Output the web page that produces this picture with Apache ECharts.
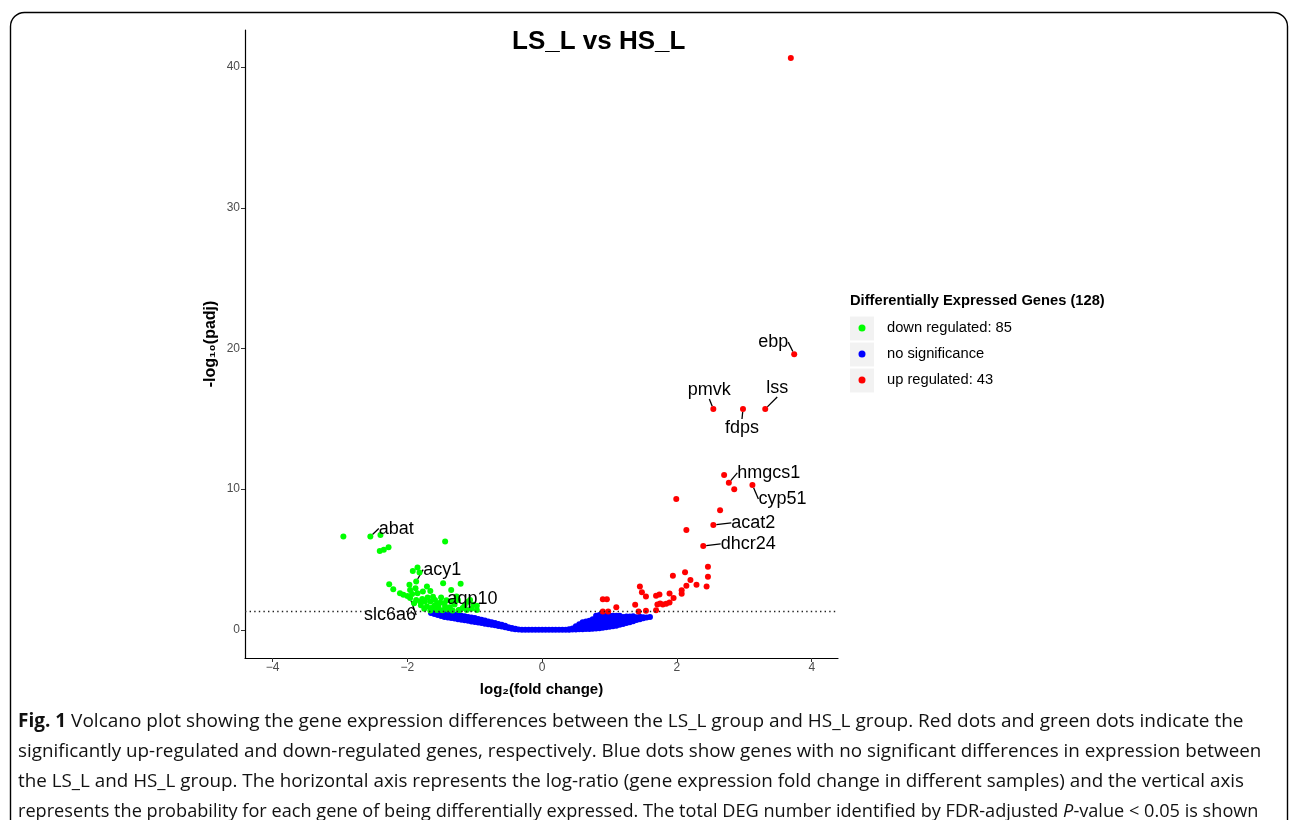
<!DOCTYPE html>
<html>
<head>
<meta charset="utf-8">
<title>LS_L vs HS_L volcano</title>
<script src="https://cdn.jsdelivr.net/npm/echarts@6/dist/echarts.min.js"></script>
<style>
  html, body { margin: 0; padding: 0; background: #fff; }
  #chart { width: 1290px; height: 820px; }
</style>
</head>
<body>
<div id="chart"></div>
<script>
// ---- data ----
const xTicks = [-4, -2, 0, 2, 4];
const yTicks = [0, 10, 20, 30, 40];
const padjCut = 1.3; // -log10(0.05)

// up regulated (red), unlabelled
const upPoints = [
  [3.69, 40.65],
  [2.70, 11.0], [2.85, 10.0], [1.99, 9.3], [2.64, 8.5], [2.14, 7.1],
  [2.46, 4.48], [1.94, 3.84], [2.12, 4.09], [2.46, 3.77], [2.44, 3.09],
  [2.20, 3.55], [2.29, 3.2], [2.14, 3.13], [2.07, 2.81], [1.89, 2.59],
  [2.07, 2.56], [1.95, 2.27], [1.74, 2.52], [1.69, 2.42], [1.75, 1.88],
  [1.71, 1.81], [1.79, 1.81], [1.84, 1.85], [1.89, 1.95], [1.69, 1.39],
  [1.45, 3.09], [1.48, 2.67], [1.54, 2.38], [1.38, 1.78], [1.43, 1.31],
  [1.54, 1.35], [1.10, 1.6], [0.90, 2.17], [0.96, 2.17], [0.90, 1.31],
  [0.98, 1.31]
];
// up regulated, labelled
const upGenes = ['ebp', 'pmvk', 'fdps', 'lss', 'hmgcs1', 'cyp51', 'acat2', 'dhcr24'];
const upGenePoints = [
  [3.74, 19.6], [2.54, 15.7], [2.98, 15.7], [3.31, 15.7],
  [2.77, 10.45], [3.12, 10.3], [2.54, 7.46], [2.39, 5.97]
];

// down regulated (green), unlabelled
const downPoints = [
  [-2.95, 6.63], [-2.40, 6.75], [-1.44, 6.28],
  [-2.41, 5.61], [-2.35, 5.69], [-2.28, 5.88],
  [-1.92, 4.19], [-1.85, 4.43], [-1.82, 4.07],
  [-2.27, 3.25], [-2.21, 2.89], [-2.11, 2.61], [-2.06, 2.49],
  [-1.97, 3.20], [-1.96, 2.84], [-1.88, 2.96], [-1.77, 2.72], [-1.71, 3.08],
  [-1.66, 2.77], [-1.47, 3.32], [-1.35, 2.84], [-1.21, 3.27],
  [-1.87, 2.13], [-1.81, 2.01], [-1.74, 2.01], [-1.66, 2.01], [-1.59, 2.13],
  [-1.51, 1.94], [-1.60, 1.71], [-1.71, 1.66], [-1.44, 1.66], [-1.37, 1.61],
  [-1.24, 1.42], [-1.12, 1.42], [-0.97, 1.71], [-0.97, 1.42], [-1.56, 1.42],
  [-1.66, 1.37], [-1.27, 2.37], [-1.02, 1.78], [-1.22, 1.42], [-1.25, 2.13],
  [-1.07, 2.13], [-2.00, 2.40], [-1.90, 1.90], [-1.80, 1.75], [-1.75, 1.50],
  [-1.65, 1.55], [-1.55, 1.85], [-1.45, 1.90], [-1.40, 1.45], [-1.30, 1.80],
  [-1.15, 1.75], [-1.05, 1.50], [-1.50, 2.30], [-1.62, 2.35], [-1.70, 2.30],
  [-1.85, 2.60], [-1.10, 2.00], [-1.93, 2.55], [-1.78, 2.20], [-1.58, 1.55],
  [-1.48, 1.40], [-1.33, 1.38], [-1.18, 1.55], [-1.42, 2.10], [-1.34, 2.02]
];
// down regulated, labelled
const downGenes = ['abat', 'acy1', 'slc6a6', 'aqp10'];
const downGenePoints = [[-2.55, 6.63], [-1.87, 3.43], [-1.96, 2.27], [-1.54, 1.63]];

// no significance (blue): columns of log2FC with the -log10(padj) values seen there
const blueColumns = [
  [-1.65, [1.2]], [-1.6, [1.12, 1.25]], [-1.55, [1.05, 1.2]],
  [-1.5, [0.98, 1.15, 1.27]], [-1.45, [0.92, 1.08, 1.22]], [-1.4, [0.88, 1.03, 1.18]],
  [-1.35, [0.84, 1.0, 1.15]], [-1.3, [0.8, 0.95, 1.1]], [-1.25, [0.76, 0.9, 1.05]],
  [-1.2, [0.72, 0.86, 1.0]], [-1.15, [0.68, 0.82, 0.96]], [-1.1, [0.64, 0.78, 0.92]],
  [-1.05, [0.6, 0.74, 0.88]], [-1.0, [0.56, 0.7, 0.84]], [-0.95, [0.52, 0.65, 0.78]],
  [-0.9, [0.48, 0.6, 0.72]], [-0.85, [0.44, 0.55, 0.66]], [-0.8, [0.4, 0.5, 0.6]],
  [-0.75, [0.36, 0.45, 0.54]], [-0.7, [0.32, 0.4, 0.48]], [-0.65, [0.28, 0.35, 0.42]],
  [-0.6, [0.24, 0.3, 0.36]], [-0.55, [0.18, 0.24, 0.3]], [-0.5, [0.13, 0.19]],
  [-0.45, [0.08, 0.13]], [-0.4, [0.04, 0.08]], [-0.35, [0.02]],
  [-0.3, [0]], [-0.25, [0]], [-0.2, [0]], [-0.15, [0]], [-0.1, [0]], [-0.05, [0]],
  [0, [0]], [0.05, [0]], [0.1, [0]], [0.15, [0]], [0.2, [0]], [0.25, [0]], [0.3, [0]],
  [0.35, [0]], [0.4, [0, 0.05]], [0.45, [0.02, 0.1]], [0.5, [0.03, 0.15, 0.25]],
  [0.55, [0.04, 0.2, 0.4]], [0.6, [0.05, 0.2, 0.4, 0.55]], [0.65, [0.06, 0.22, 0.42, 0.6]],
  [0.7, [0.07, 0.25, 0.45, 0.65]], [0.75, [0.08, 0.28, 0.5, 0.75]],
  [0.8, [0.1, 0.3, 0.55, 0.8, 1.0]], [0.85, [0.12, 0.35, 0.6, 0.85, 1.05]],
  [0.9, [0.15, 0.38, 0.62, 0.85, 1.05]], [0.95, [0.18, 0.4, 0.62, 0.85, 1.02]],
  [1.0, [0.22, 0.42, 0.64, 0.85, 1.02]], [1.05, [0.26, 0.45, 0.65, 0.85, 1.0]],
  [1.1, [0.3, 0.5, 0.7, 0.88, 1.0]], [1.15, [0.36, 0.54, 0.72, 0.9, 1.0]],
  [1.2, [0.42, 0.58, 0.75, 0.92]], [1.25, [0.48, 0.62, 0.78, 0.95]],
  [1.3, [0.55, 0.68, 0.82, 0.95]], [1.35, [0.62, 0.74, 0.86, 0.96]],
  [1.4, [0.7, 0.8, 0.9]], [1.45, [0.76, 0.86, 0.94]], [1.5, [0.82, 0.9]],
  [1.55, [0.88]], [1.6, [0.92]]
];

const legendNames = ['down regulated: 85', 'no significance', 'up regulated: 43'];

const captionLines = [
  '{b|Fig. 1} Volcano plot showing the gene expression differences between the LS_L group and HS_L group. Red dots and green dots indicate the',
  'significantly up-regulated and down-regulated genes, respectively. Blue dots show genes with no significant differences in expression between',
  'the LS_L and HS_L group. The horizontal axis represents the log-ratio (gene expression fold change in different samples) and the vertical axis',
  'represents the probability for each gene of being differentially expressed. The total DEG number identified by FDR-adjusted {i|P}-value < 0.05 is shown'
];

// ---- layout ----
// px offsets of gene labels from their dot
const labelOffsets = {
  ebp: [-21, -12], pmvk: [-4, -19], fdps: [-1, 19], lss: [12, -21],
  hmgcs1: [40, -10], cyp51: [30, 14], acat2: [40, -2], dhcr24: [45, -2],
  abat: [26, -8], acy1: [26, -12], slc6a6: [-20, 17], aqp10: [34, -8]
};
// horizontal squeeze of each caption line so it ends where the printed one does
const captionScale = [1.0, 0.99, 0.99, 0.955];

const FONT = '"Liberation Sans", Arial, sans-serif';
const CAP_FONT = '"Open Sans", sans-serif';

const bluePoints = blueColumns.flatMap(([x, ys]) => ys.map((y) => [x, y]));

const labelled = (names, pts) =>
  names.map((n, i) => ({
    name: n,
    value: pts[i],
    label: { show: true },
    labelLine: { show: true }
  }));

const placeLabel = (params) => {
  const off = labelOffsets[params.text];
  if (!off) return {};
  return {
    x: params.rect.x + params.rect.width / 2 + off[0],
    y: params.rect.y + params.rect.height / 2 + off[1],
    align: 'center',
    verticalAlign: 'middle'
  };
};

const geneLabel = {
  show: false,
  formatter: '{b}',
  color: '#000',
  fontSize: 18,
  fontFamily: FONT
};
const geneLine = { show: false, lineStyle: { color: '#000', width: 1.3 } };

const minus = (v) => String(v).replace('-', '\u2212');

const chart = echarts.init(document.getElementById('chart'));
chart.setOption({
  animation: false,
  title: {
    text: 'LS_L vs HS_L',
    left: 512,
    top: 29,
    padding: 0,
    textStyle: { fontSize: 26, fontWeight: 'bold', color: '#000', fontFamily: FONT }
  },
  legend: {
    orient: 'vertical',
    left: 858.5,
    top: 318,
    padding: 0,
    itemWidth: 7,
    itemHeight: 7,
    itemGap: 6,
    icon: 'circle',
    selectedMode: false,
    data: legendNames,
    formatter: (name) => '{gap|}' + name,
    textStyle: {
      fontSize: 14.7,
      color: '#000',
      lineHeight: 20,
      fontFamily: FONT,
      rich: { gap: { width: 16.5 } }
    }
  },
  grid: { left: 245, right: 452, top: 30, bottom: 162 },
  xAxis: {
    type: 'value',
    min: -4.41,
    max: 4.39,
    name: 'log\u2082(fold change)',
    nameLocation: 'middle',
    nameGap: 24,
    nameTextStyle: { fontSize: 15, fontWeight: 'bold', color: '#000', fontFamily: FONT },
    axisLine: { onZero: false, lineStyle: { color: '#000', width: 1.2 } },
    axisTick: { customValues: xTicks, length: 4, lineStyle: { color: '#333' } },
    axisLabel: { customValues: xTicks, color: '#4D4D4D', fontSize: 12, margin: 4, fontFamily: FONT, formatter: minus },
    splitLine: { show: false }
  },
  yAxis: {
    type: 'value',
    min: -2,
    max: 42.64,
    name: '-log\u2081\u2080(padj)',
    nameLocation: 'middle',
    nameGap: 26,
    nameTextStyle: { fontSize: 16, fontWeight: 'bold', color: '#000', fontFamily: FONT },
    axisLine: { onZero: false, lineStyle: { color: '#000', width: 1.2 } },
    axisTick: { customValues: yTicks, length: 4, lineStyle: { color: '#333' } },
    axisLabel: { customValues: yTicks, color: '#4D4D4D', fontSize: 12, margin: 5, fontFamily: FONT },
    splitLine: { show: false }
  },
  series: [
    {
      name: legendNames[1],
      type: 'scatter',
      symbolSize: 6,
      itemStyle: { color: '#0000FF', opacity: 1 },
      data: bluePoints,
      markLine: {
        silent: true,
        symbol: 'none',
        label: { show: false },
        lineStyle: { color: '#222', width: 1.4, type: [1.4, 3.2] },
        data: [{ yAxis: padjCut }]
      },
      z: 2
    },
    {
      name: legendNames[0],
      type: 'scatter',
      symbolSize: 6,
      itemStyle: { color: '#00FF00', opacity: 1 },
      data: downPoints.concat(labelled(downGenes, downGenePoints)),
      label: geneLabel,
      labelLine: geneLine,
      labelLayout: placeLabel,
      z: 3
    },
    {
      name: legendNames[2],
      type: 'scatter',
      symbolSize: 6,
      itemStyle: { color: '#FF0000', opacity: 1 },
      data: upPoints.concat(labelled(upGenes, upGenePoints)),
      label: geneLabel,
      labelLine: geneLine,
      labelLayout: placeLabel,
      z: 3
    }
  ],
  graphic: [
    {
      type: 'rect',
      z: 0,
      shape: { x: 10.5, y: 12.5, width: 1277, height: 860, r: 14 },
      style: { fill: 'none', stroke: '#000', lineWidth: 1.4 }
    },
    {
      type: 'text',
      x: 850,
      y: 301,
      style: { text: 'Differentially Expressed Genes (128)', fontSize: 14.7, fontWeight: 'bold', fontFamily: FONT, fill: '#000', verticalAlign: 'middle' }
    },
    { type: 'rect', z: 0, shape: { x: 850, y: 316.5, width: 24, height: 24 }, style: { fill: '#F2F2F2' } },
    { type: 'rect', z: 0, shape: { x: 850, y: 342.5, width: 24, height: 24 }, style: { fill: '#F2F2F2' } },
    { type: 'rect', z: 0, shape: { x: 850, y: 368.5, width: 24, height: 24 }, style: { fill: '#F2F2F2' } }
  ].concat(captionLines.map((t, i) => ({
    type: 'text',
    x: 18,
    y: 722 + i * 29.7,
    scaleX: captionScale[i],
    style: {
      text: t,
      fontSize: 19,
      fontFamily: CAP_FONT,
      fill: '#111',
      verticalAlign: 'middle',
      rich: {
        b: { fontSize: 19, fontFamily: CAP_FONT, fontWeight: 'bold', fill: '#111' },
        i: { fontSize: 19, fontFamily: CAP_FONT, fontStyle: 'italic', fill: '#111' }
      }
    }
  })))
});
</script>
</body>
</html>
